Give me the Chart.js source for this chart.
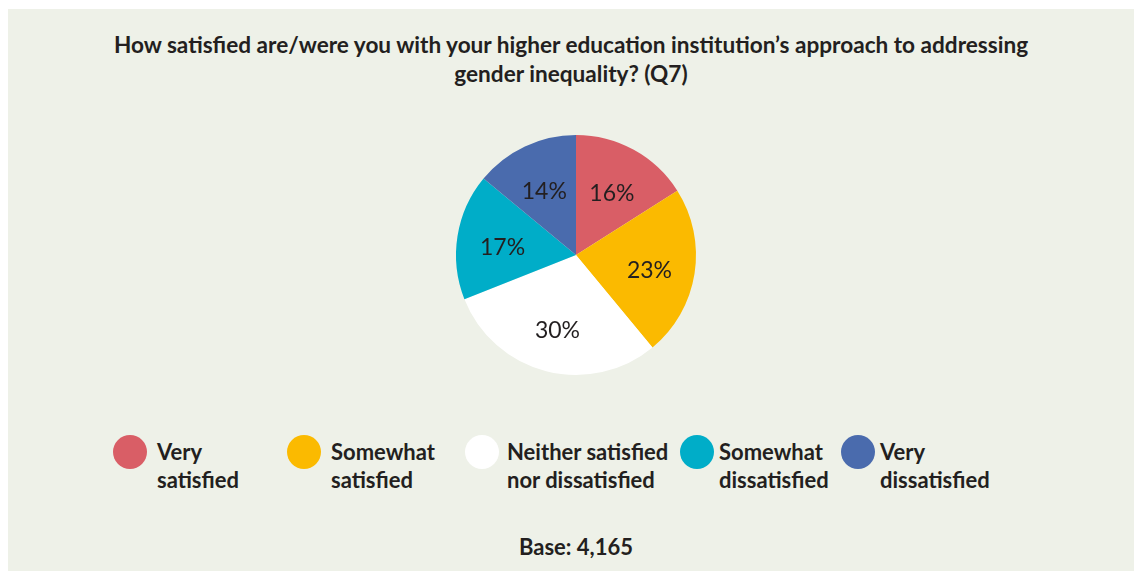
<!DOCTYPE html>
<html>
<head>
<meta charset="utf-8">
<script src="https://cdn.jsdelivr.net/npm/chart.js@4.4.1/dist/chart.umd.min.js"></script>
<style>
  html, body { margin: 0; padding: 0; background: #ffffff; }
  body { width: 1134px; height: 571px; position: relative; overflow: hidden; font-family: Lato, "Open Sans", sans-serif; color: #231f20; }
  #panel { position: absolute; left: 8px; top: 9px; width: 1126px; height: 562px; background: #eef1e8; }
  #title { position: absolute; left: 8px; width: 1126px; top: 30px; text-align: center; font-weight: bold; font-size: 22.6px; line-height: 29px; }
  #pieWrap { position: absolute; left: 426px; top: 105px; width: 300px; height: 300px; }
  .dot { position: absolute; width: 34px; height: 34px; border-radius: 50%; top: 435px; }
  .txt { position: absolute; top: 438px; font-weight: bold; font-size: 22px; line-height: 28px; white-space: nowrap; }
  #base { position: absolute; left: 476px; width: 200px; top: 533px; text-align: center; font-weight: bold; font-size: 22px; }
</style>
</head>
<body>
<div id="panel"></div>
<div id="title">How satisfied are/were you with your higher education institution’s approach to addressing<br>gender inequality? (Q7)</div>
<div id="pieWrap"><canvas id="c" width="300" height="300"></canvas></div>
<div id="legend"></div>
<div id="base">Base: 4,165</div>
<script>
const categories = [
  ["Very", "satisfied"],
  ["Somewhat", "satisfied"],
  ["Neither satisfied", "nor dissatisfied"],
  ["Somewhat", "dissatisfied"],
  ["Very", "dissatisfied"]
];
const values = [16, 23, 30, 17, 14];
const colors = ["#d95e66", "#fbba00", "#ffffff", "#00adc8", "#4a6bad"];
const legendDotX = [130, 304, 482, 697, 858];
const legendTextX = [157, 331, 507, 719, 880];

const labelPlugin = {
  id: "sliceLabels",
  afterDatasetsDraw(chart) {
    const ctx = chart.ctx;
    const meta = chart.getDatasetMeta(0);
    ctx.save();
    ctx.font = "400 23px Lato, 'Open Sans', sans-serif";
    ctx.fillStyle = "#231f20";
    ctx.textAlign = "center";
    ctx.textBaseline = "middle";
    meta.data.forEach((arc, i) => {
      const mid = (arc.startAngle + arc.endAngle) / 2;
      const r = arc.outerRadius * 0.62;
      ctx.fillText(values[i] + "%", arc.x + Math.cos(mid) * r, arc.y + Math.sin(mid) * r + 4);
    });
    ctx.restore();
  }
};

new Chart(document.getElementById("c"), {
  type: "pie",
  data: {
    labels: categories.map(c => c.join(" ")),
    datasets: [{ data: values, backgroundColor: colors, borderWidth: 0, hoverOffset: 0, radius: 120 }]
  },
  options: {
    responsive: false,
    animation: false,
    events: [],
    layout: { padding: 0 },
    plugins: { legend: { display: false }, tooltip: { enabled: false } }
  },
  plugins: [labelPlugin]
});

const lg = document.getElementById("legend");
categories.forEach((c, i) => {
  const d = document.createElement("div");
  d.className = "dot";
  d.style.left = (legendDotX[i] - 17) + "px";
  d.style.background = colors[i];
  lg.appendChild(d);
  const t = document.createElement("div");
  t.className = "txt";
  t.style.left = legendTextX[i] + "px";
  t.innerHTML = c.join("<br>");
  lg.appendChild(t);
});
</script>
</body>
</html>
